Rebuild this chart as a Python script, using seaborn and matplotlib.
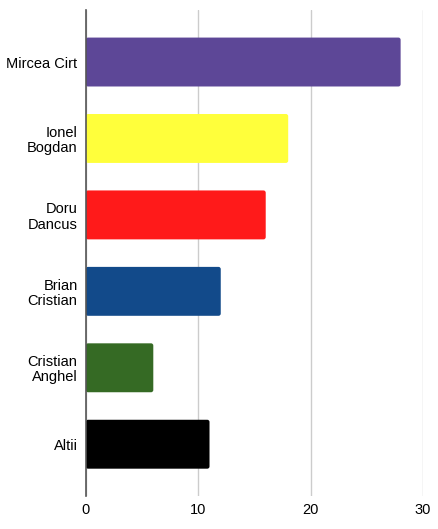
import numpy as np
import pandas as pd
import seaborn as sns
from matplotlib import pyplot as plt
from matplotlib.patches import FancyBboxPatch

names = ["Mircea Cirt", "Ionel\nBogdan", "Doru\nDancus", "Brian\nCristian", "Cristian\nAnghel", "Altii"]
values = [28, 18, 16, 12, 6, 11]
colors = ["#5d4797", "#ffff3b", "#ff1a1a", "#124a8a", "#356a24", "#000000"]

sns.set_theme(style="white")
plt.rcParams["font.family"] = ["Liberation Sans", "DejaVu Sans"]

df = pd.DataFrame({"name": names, "value": values})

fig = plt.figure(figsize=(4.38, 5.29), dpi=100)
ax = fig.add_axes([0.196, 0.062, 0.770, 0.919])

sns.barplot(data=df, x="value", y="name", hue="name", palette=colors,
            legend=False, width=0.64, ax=ax, saturation=1)

# swap plain rectangles for slightly rounded ones
for p in list(ax.patches):
    x0, y0 = p.get_x(), p.get_y()
    w, h = p.get_width(), p.get_height()
    fc = p.get_facecolor()
    p.set_visible(False)
    ax.add_patch(FancyBboxPatch((x0, y0), w, h,
                                boxstyle="round,pad=0,rounding_size=0.2",
                                mutation_aspect=0.15, facecolor=fc,
                                edgecolor="none", zorder=2))

ax.set_xlim(0, 30)
ax.set_ylim(5.68, -0.68)
ax.set_xticks([0, 10, 20, 30])
ax.xaxis.grid(True, color="#cccccc", lw=1)
ax.set_axisbelow(True)
for s in ["top", "right", "bottom"]:
    ax.spines[s].set_visible(False)
ax.spines["left"].set_color("#555555")
ax.spines["left"].set_linewidth(1.2)
ax.spines["left"].set_zorder(3)
ax.set_xlabel("")
ax.set_ylabel("")
ax.tick_params(axis="both", length=0, labelsize=10.5, colors="black", pad=6)
ax.tick_params(axis="x", pad=5)
for lbl in ax.get_yticklabels():
    lbl.set_linespacing(1.1)
    lbl.set_horizontalalignment("right")

fig.savefig("out.png", dpi=100)
